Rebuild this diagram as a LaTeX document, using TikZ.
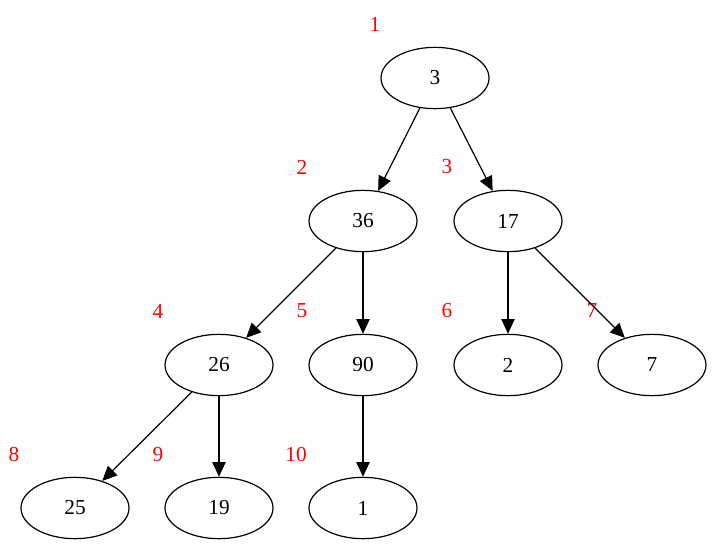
\documentclass[tikz,border=0pt]{standalone}
\usepackage{fontspec}
\setmainfont{Liberation Serif}
\usetikzlibrary{arrows.meta,shapes.geometric}

\tikzset{
  heap/.style={draw,line width=0.9pt,ellipse,minimum width=81pt,minimum height=46pt,inner sep=0pt,
    font=\fontsize{16}{19}\selectfont},
  idx/.style={text=red,font=\fontsize{16}{19}\selectfont},
  edge/.style={draw,line width=0.9pt,-{Triangle[length=11pt,width=10pt]}}
}

\begin{document}
\begin{tikzpicture}[x=0.75pt,y=-0.75pt]
\useasboundingbox (0,0) rectangle (714,553);
% heap nodes
\node[heap] (n1) at (435,78) {3};
\node[heap] (n2) at (363,221) {36};
\node[heap] (n3) at (508,221) {17};
\node[heap] (n4) at (219,365) {26};
\node[heap] (n5) at (363,365) {90};
\node[heap] (n6) at (508,365) {2};
\node[heap] (n7) at (652,365) {7};
\node[heap] (n8) at (75,508) {25};
\node[heap] (n9) at (219,508) {19};
\node[heap] (n10) at (363,508) {1};
% positions in the array
\node[idx] (i1) at (375,24) {1};
\node[idx] (i2) at (302,167) {2};
\node[idx] (i3) at (447,167) {3};
\node[idx] (i4) at (158,311) {4};
\node[idx] (i5) at (302,311) {5};
\node[idx] (i6) at (447,311) {6};
\node[idx] (i7) at (592,311) {7};
\node[idx] (i8) at (14,455) {8};
\node[idx] (i9) at (158,455) {9};
\node[idx] (i10) at (296,455) {10};
% edges
\path[edge] (n1) -- (n2);
\path[edge] (n1) -- (n3);
\path[edge] (n2) -- (n4);
\path[edge] (n2) -- (n5);
\path[edge] (n3) -- (n6);
\path[edge] (n3) -- (n7);
\path[edge] (n4) -- (n8);
\path[edge] (n4) -- (n9);
\path[edge] (n5) -- (n10);
\end{tikzpicture}
\end{document}
